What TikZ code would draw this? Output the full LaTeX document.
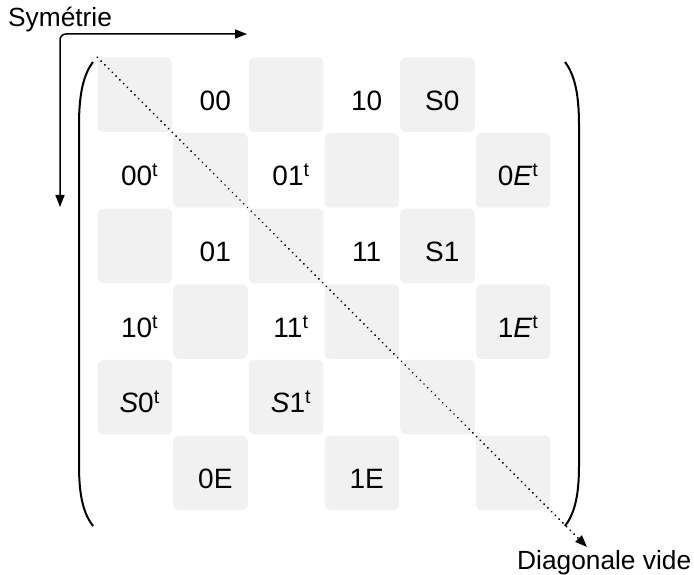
\documentclass[tikz,border=0pt]{standalone}
\usepackage{fontspec}
\setmainfont{Liberation Sans}
\usetikzlibrary{arrows.meta,calc}
\definecolor{cellgray}{HTML}{F1F1F1}
\tikzset{
  cellbox/.style={draw=none, rectangle, rounded corners=6bp, minimum width=74.6bp, minimum height=74.6bp, inner sep=0pt},
  celltext/.style={anchor=base, inner sep=0pt, font=\fontsize{28bp}{32bp}\selectfont},
  lbl/.style={anchor=base west, inner sep=0pt, font=\fontsize{26.3bp}{30bp}\selectfont},
  tip/.style={-{Triangle[length=12bp,width=9bp]}},
  paren/.style={line width=2bp},
}
\begin{document}
\begin{tikzpicture}[x=1bp,y=-1bp]
\useasboundingbox (0,0) rectangle (694,575);
% cells
\foreach \r in {1,...,6}{
  \foreach \c in {1,...,6}{
    \pgfmathsetmacro\xx{97+75.67*(\c-0.5)}
    \pgfmathsetmacro\yy{57+75.6*(\r-0.5)}
    \pgfmathtruncatemacro\p{mod(\r+\c,2)}
    \ifnum\p=0
      \node[cellbox, fill=cellgray] (c\r\c) at (\xx,\yy) {};
    \else
      \node[cellbox] (c\r\c) at (\xx,\yy) {};
    \fi
  }
}
% texts
\newcommand{\tp}{\textsuperscript{t}}
\foreach \r/\c/\t in {
  1/2/00, 1/4/10, 1/5/S0,
  2/1/00\tp, 2/3/01\tp, 2/6/0\textit{E}\tp,
  3/2/01, 3/4/11, 3/5/S1,
  4/1/10\tp, 4/3/11\tp, 4/6/1\textit{E}\tp,
  5/1/\textit{S}0\tp, 5/3/\textit{S}1\tp,
  6/2/0E, 6/4/1E}{
  \node[celltext] (t\r\c) at ($(c\r\c.center)+(4.8,15.5)$) {\t};
}
% parentheses
\draw[paren] (93,62) .. controls (84,74) and (79,92) .. (79,125) -- (79,465) .. controls (79,498) and (84,514) .. (93,526);
\draw[paren] (565,62) .. controls (574,74) and (579,92) .. (579,125) -- (579,465) .. controls (579,498) and (574,514) .. (565,526);
% symmetry arrow
\node[lbl] (sym) at (8,26.5) {Symétrie};
\coordinate (symA) at (60,207);
\coordinate (symC) at (60,34);
\coordinate (symB) at (247,34);
\draw[line width=1.5bp, rounded corners=6bp, {Triangle[length=12bp,width=9bp]}-{Triangle[length=12bp,width=9bp]}] (symA) -- (symC) -- (symB);
% diagonal
\coordinate (dgA) at (c11.north west);
\coordinate (dgB) at (587,547);
\draw[line width=2bp, line cap=round, dash pattern=on 0.01bp off 5.3bp, -{Triangle[length=12bp,width=9bp,line cap=butt]}] (dgA) -- (dgB);
\node[lbl] (dv) at (517,569) {Diagonale vide};
\end{tikzpicture}
\end{document}
